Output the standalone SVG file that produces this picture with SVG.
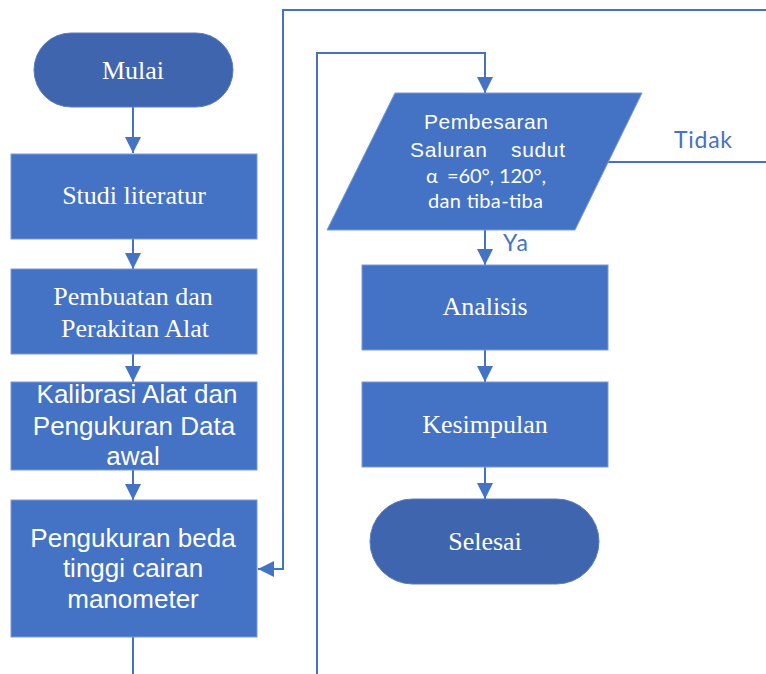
<svg xmlns="http://www.w3.org/2000/svg" width="766" height="674" viewBox="0 0 766 674">
<defs>
<marker id="ah" markerUnits="userSpaceOnUse" markerWidth="16" markerHeight="16" refX="16" refY="8" orient="auto">
<path d="M0,0 L16,8 L0,16 z" fill="#4472C4"/>
</marker>
<style>
.box{fill:#4472C4;stroke:#7A9AD6;stroke-width:1}
.pill{fill:#3F65AE;stroke:#5B7CC0;stroke-width:1}
.ln{fill:none;stroke:#4472C4;stroke-width:2}
.ser{font-family:"Liberation Serif","Times New Roman",serif;font-size:26px;fill:#fff;text-anchor:middle}
.san{font-family:"Liberation Sans",Arial,sans-serif;font-size:26px;fill:#fff;text-anchor:middle}
.cal{font-family:Lato,"Open Sans",sans-serif;fill:#fff}
.lbl{font-family:Lato,"Open Sans",sans-serif;font-size:23px;fill:#4472C4}
</style>
</defs>
<rect width="766" height="674" fill="#fff"/>
<g id="connectors">
<path class="ln" d="M133,107 V153" marker-end="url(#ah)"/>
<path class="ln" d="M133,239 V269" marker-end="url(#ah)"/>
<path class="ln" d="M133,354 V382" marker-end="url(#ah)"/>
<path class="ln" d="M133,470 V500" marker-end="url(#ah)"/>
<path class="ln" d="M133,637 V674"/>
<path class="ln" d="M317,674 V53 H485 V93" marker-end="url(#ah)"/>
<path class="ln" d="M766,10 H283 V569 H258" marker-end="url(#ah)"/>
<path class="ln" d="M608,162 H766"/>
<path class="ln" d="M485,230 V265" marker-end="url(#ah)"/>
<path class="ln" d="M485,350 V382" marker-end="url(#ah)"/>
<path class="ln" d="M485,467 V499" marker-end="url(#ah)"/>
<text class="lbl" x="674" y="148" textLength="58">Tidak</text>
<text class="lbl" x="503" y="251" textLength="25">Ya</text>
</g>
<g id="mulai">
<rect class="pill" x="34" y="33" width="199" height="74" rx="37"/>
<text class="ser" x="133" y="79">Mulai</text>
</g>
<g id="studi">
<rect class="box" x="11" y="154" width="246" height="85"/>
<text class="ser" x="134" y="204">Studi literatur</text>
</g>
<g id="pembuatan">
<rect class="box" x="11" y="269" width="246" height="85"/>
<text class="ser" x="133" y="305">Pembuatan dan</text>
<text class="ser" x="135" y="337">Perakitan Alat</text>
</g>
<g id="kalibrasi">
<rect class="box" x="11" y="382" width="246" height="88"/>
<text class="san" x="137" y="403">Kalibrasi Alat dan</text>
<text class="san" x="134" y="435">Pengukuran Data</text>
<text class="san" x="133" y="465">awal</text>
</g>
<g id="pengukuran">
<rect class="box" x="11" y="500" width="246" height="137"/>
<text class="san" x="133" y="547">Pengukuran beda</text>
<text class="san" x="133" y="577">tinggi cairan</text>
<text class="san" x="133" y="608">manometer</text>
</g>
<g id="pembesaran">
<polygon class="box" points="395,93 642,93 575,230 327,230"/>
<text class="san" x="486" y="129" style="font-size:21px" textLength="124">Pembesaran</text>
<text class="san" x="410" y="157" style="font-size:21px;text-anchor:start" textLength="77">Saluran</text>
<text class="san" x="565" y="157" style="font-size:21px;text-anchor:end" textLength="54">sudut</text>
<text class="cal" x="426" y="183" style="font-size:20px">α</text>
<text class="cal" x="447" y="183" style="font-size:20px" textLength="99">=60°, 120°,</text>
<text class="cal" x="428" y="208" style="font-size:20px" textLength="115">dan tiba-tiba</text>
</g>
<g id="analisis">
<rect class="box" x="362" y="265" width="246" height="85"/>
<text class="ser" x="485" y="315">Analisis</text>
</g>
<g id="kesimpulan">
<rect class="box" x="362" y="382" width="246" height="85"/>
<text class="ser" x="485" y="433">Kesimpulan</text>
</g>
<g id="selesai">
<rect class="pill" x="370" y="499" width="229" height="85" rx="42.5"/>
<text class="ser" x="485" y="550">Selesai</text>
</g>
</svg>
